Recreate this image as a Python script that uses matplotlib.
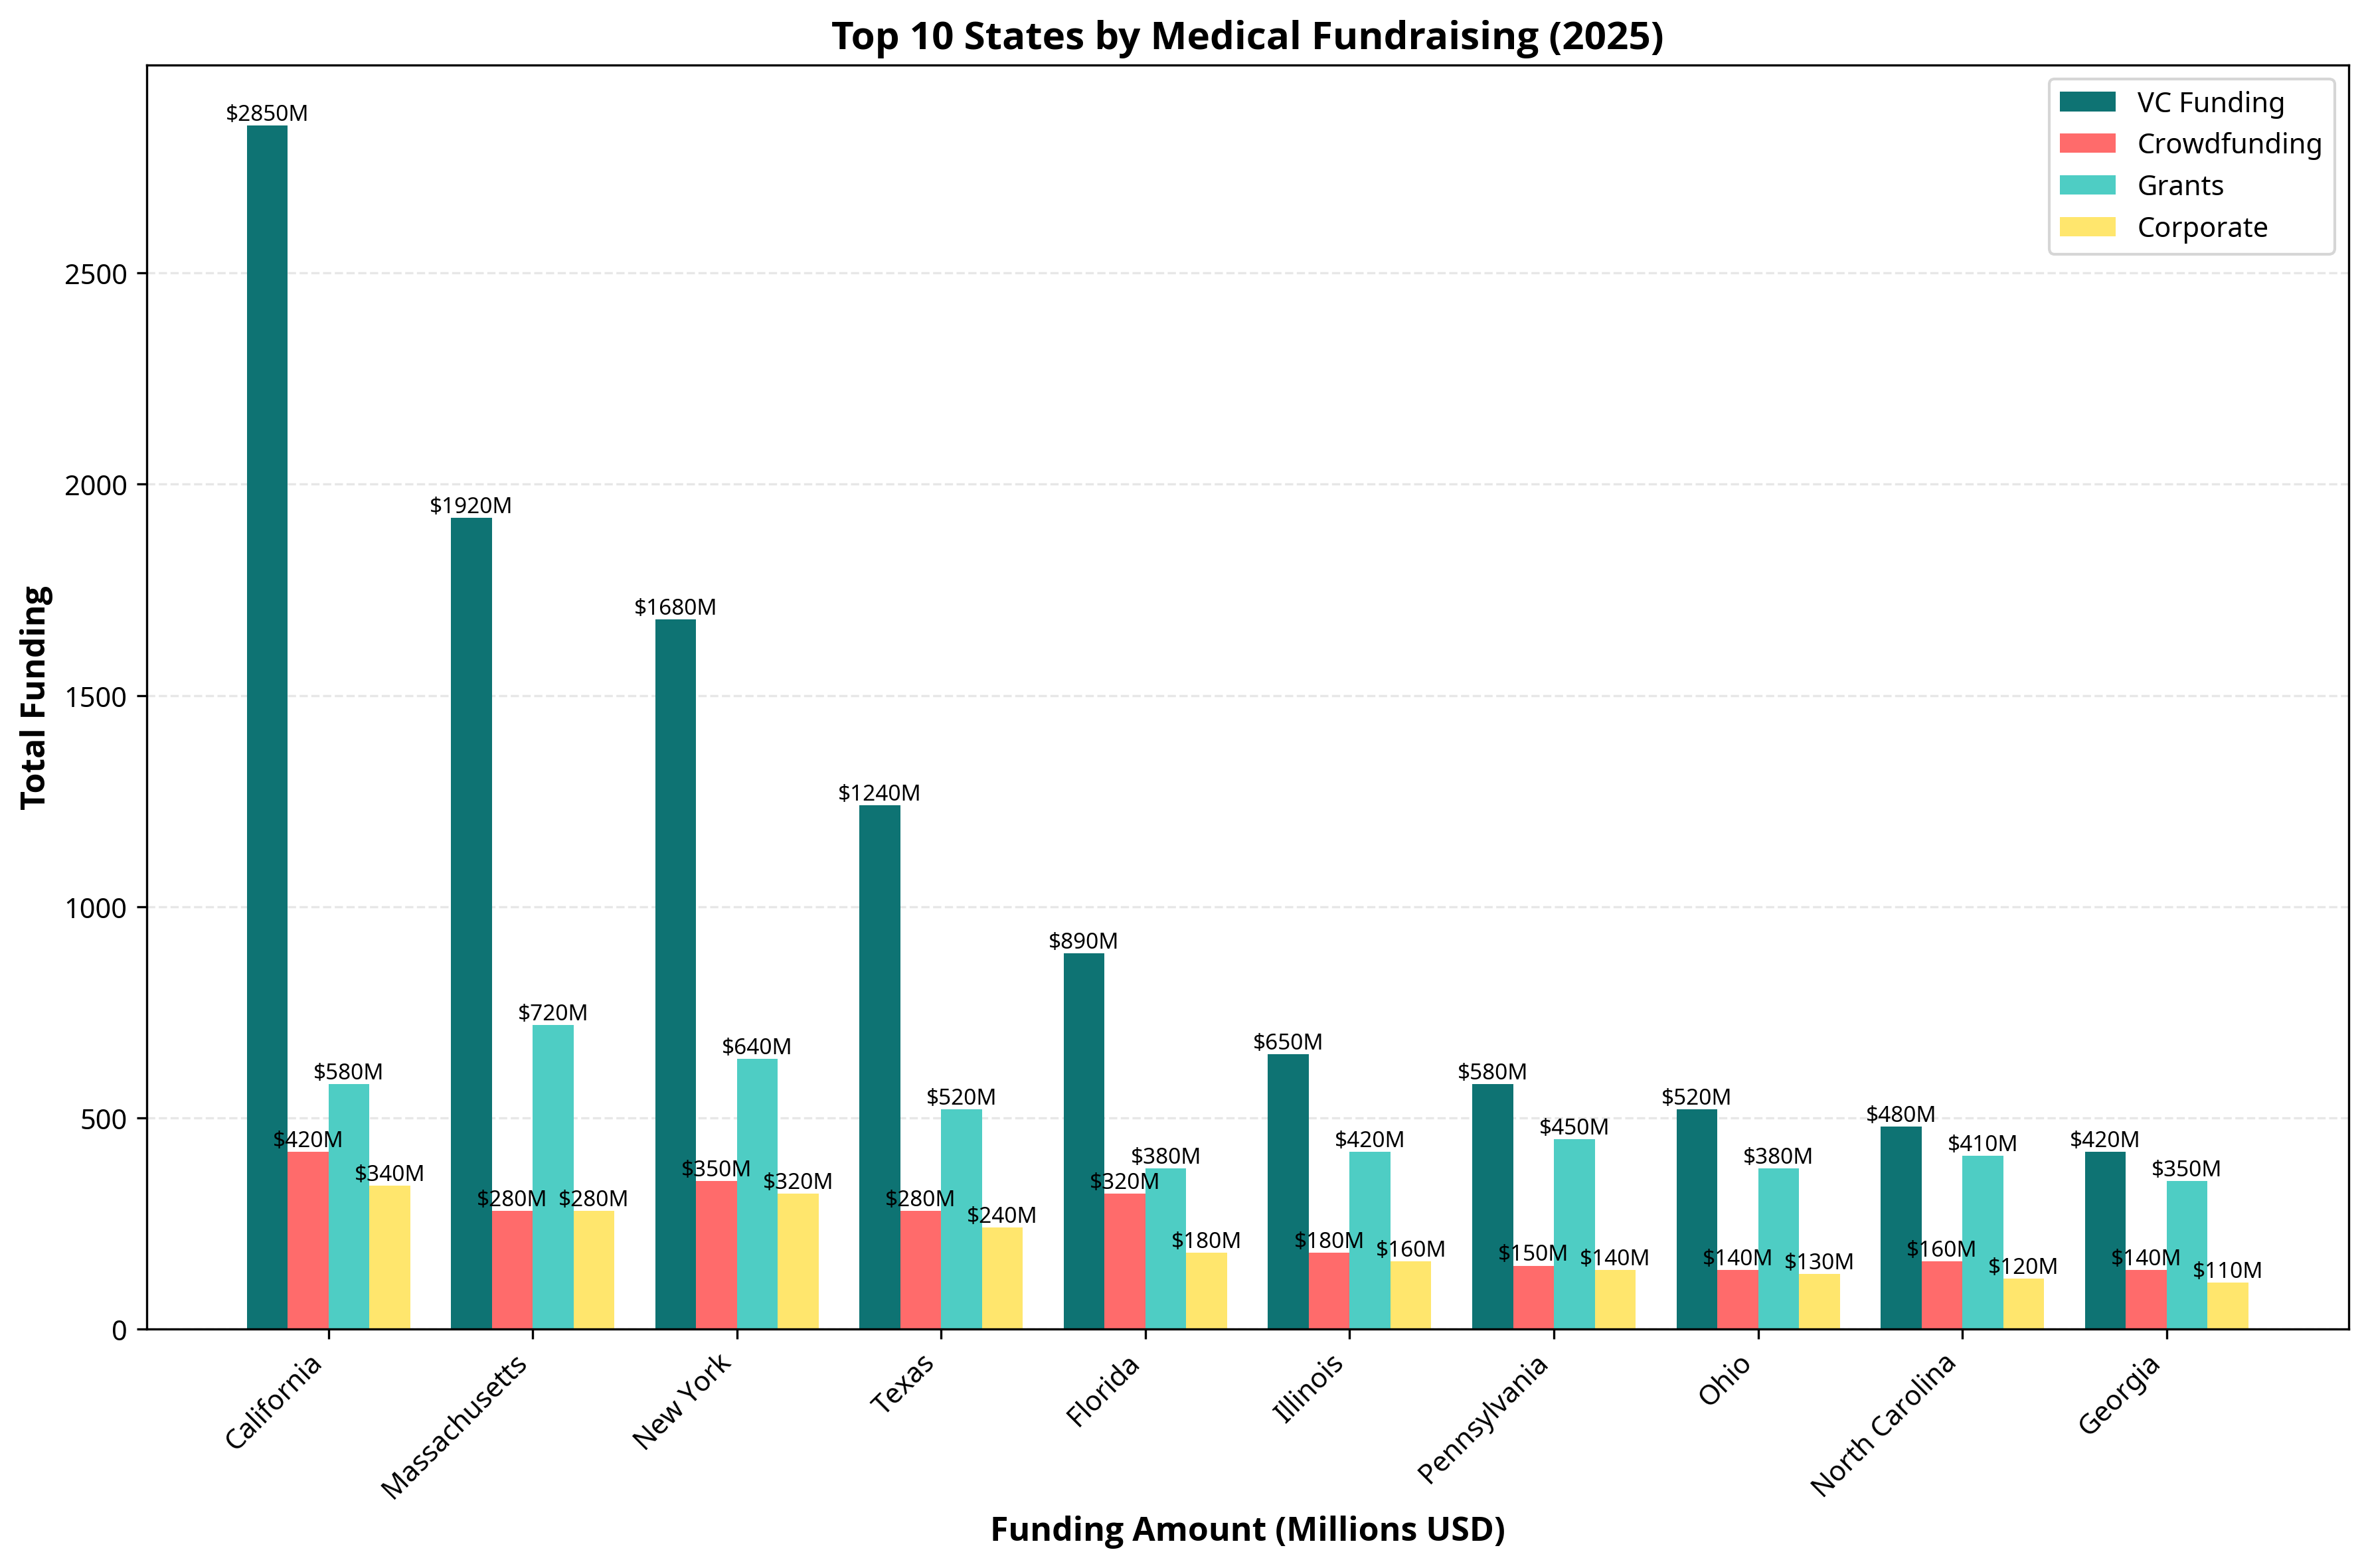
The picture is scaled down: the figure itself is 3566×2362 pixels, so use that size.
import numpy as np
import matplotlib.pyplot as plt

plt.rcParams['font.family'] = ['Noto Sans', 'DejaVu Sans']

states = ['California', 'Massachusetts', 'New York', 'Texas', 'Florida',
          'Illinois', 'Pennsylvania', 'Ohio', 'North Carolina', 'Georgia']
vc_funding = [2850, 1920, 1680, 1240, 890, 650, 580, 520, 480, 420]
crowdfunding = [420, 280, 350, 280, 320, 180, 150, 140, 160, 140]
grants = [580, 720, 640, 520, 380, 420, 450, 380, 410, 350]
corporate = [340, 280, 320, 240, 180, 160, 140, 130, 120, 110]

series = [('VC Funding', vc_funding, '#0E7373'),
          ('Crowdfunding', crowdfunding, '#FF6B6B'),
          ('Grants', grants, '#4ECDC4'),
          ('Corporate', corporate, '#FFE66D')]

# Noto Sans has no bold face here, Open Sans bold is the closest match
bold_font = ['Open Sans', 'DejaVu Sans']


def main():
    fig, ax = plt.subplots(figsize=(12, 8))
    x = np.arange(len(states))
    width = 0.2

    for k, (name, vals, color) in enumerate(series):
        bars = ax.bar(x + (k - 1.5) * width, vals, width, label=name, color=color)
        for b, v in zip(bars, vals):
            ax.text(b.get_x() + b.get_width() / 2, b.get_height(), f'${v}M',
                    ha='center', va='bottom', fontsize=8)

    ax.set_title('Top 10 States by Medical Fundraising (2025)',
                 fontsize=14, fontweight='bold', family=bold_font)
    ax.set_xlabel('Funding Amount (Millions USD)', fontsize=12,
                  fontweight='bold', family=bold_font)
    ax.set_ylabel('Total Funding', fontsize=12, fontweight='bold',
                  family=bold_font)
    ax.set_xticks(x)
    ax.set_xticklabels(states, rotation=45, ha='right')
    ax.legend()
    ax.yaxis.grid(True, linestyle='--', alpha=0.3)
    ax.set_axisbelow(True)

    plt.tight_layout()
    plt.savefig('out.png', dpi=300, bbox_inches='tight')


if __name__ == '__main__':
    main()
